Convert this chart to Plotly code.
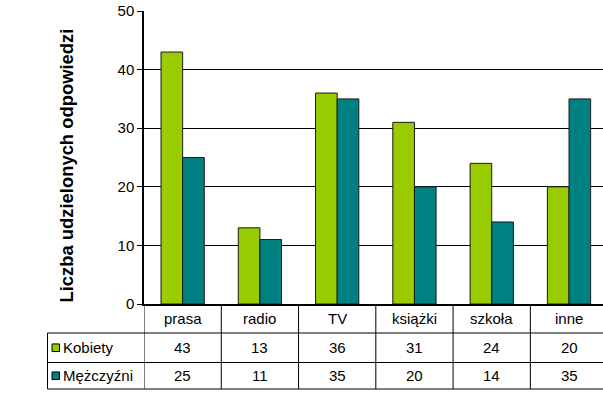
import plotly.graph_objects as go

# Źródła informacji – liczba odpowiedzi kobiet i mężczyzn
categories = ["prasa", "radio", "TV", "książki", "szkoła", "inne"]
kobiety = [43, 13, 36, 31, 24, 20]
mezczyzni = [25, 11, 35, 20, 14, 35]
series_names = ["Kobiety", "Mężczyźni"]
y_ticks = [0, 10, 20, 30, 40, 50]
y_title = "Liczba udzielonych odpowiedzi"

COL_K = "#99CC00"
COL_M = "#008080"
FONT = "Liberation Sans, Arial, sans-serif"

W, H = 603, 400
ML, MR, MT, MB = 144, 0, 11, 96
plot_w = W - ML - MR
plot_h = H - MT - MB


def py(y_px):
    """Pixel row -> paper y."""
    return (H - MB - y_px) / plot_h


def px(x_px):
    """Pixel column -> paper x."""
    return (x_px - ML) / plot_w


fig = go.Figure()
for name, vals, col in [(series_names[0], kobiety, COL_K), (series_names[1], mezczyzni, COL_M)]:
    fig.add_trace(go.Bar(
        x=categories, y=vals, name=name,
        marker=dict(color=col, line=dict(color="#1a1a1a", width=1)),
        showlegend=False,
    ))

shapes = []
annotations = []

# data table: row boundaries
row_top = py(304)
row1 = py(333)
row2 = py(362.5)
row_bot = py(389)
tbl_left = px(47.5)

n = len(categories)
for i in range(n + 1):
    shapes.append(dict(type="line", xref="x", yref="paper",
                       x0=i - 0.5, x1=i - 0.5, y0=row_top, y1=row_bot,
                       line=dict(color="#000000", width=1)))
for yy in (row1, row2, row_bot):
    shapes.append(dict(type="line", xref="paper", yref="paper",
                       x0=tbl_left, x1=1.02, y0=yy, y1=yy,
                       line=dict(color="#000000", width=1)))
shapes.append(dict(type="line", xref="paper", yref="paper",
                   x0=tbl_left, x1=tbl_left, y0=row1, y1=row_bot,
                   line=dict(color="#000000", width=1)))

hdr_y = (row_top + row1) / 2
r1_y = (row1 + row2) / 2
r2_y = (row2 + row_bot) / 2
cell_font = dict(size=15, color="black", family=FONT)
for i, cat in enumerate(categories):
    for text, yc in ((cat, hdr_y), (str(kobiety[i]), r1_y), (str(mezczyzni[i]), r2_y)):
        annotations.append(dict(x=cat, xref="x", y=yc, yref="paper", text=text,
                                xanchor="center", yanchor="middle",
                                showarrow=False, font=cell_font))

# legend keys inside the table
for name, col, yc in [(series_names[0], COL_K, r1_y), (series_names[1], COL_M, r2_y)]:
    shapes.append(dict(type="rect", xref="paper", yref="paper",
                       x0=px(52), x1=px(59.5), y0=yc - 3.8 / plot_h, y1=yc + 3.8 / plot_h,
                       fillcolor=col, line=dict(color="#000000", width=1)))
    annotations.append(dict(x=px(61), xref="paper", y=yc, yref="paper", text=name,
                            xanchor="left", yanchor="middle", showarrow=False,
                            font=cell_font))

# y-axis title
annotations.append(dict(x=px(65.5), xref="paper", y=py(166), yref="paper",
                        text="<b>" + y_title + "</b>",
                        xanchor="center", yanchor="middle",
                        textangle=-90, showarrow=False,
                        font=dict(size=18.4, color="black", family=FONT)))

fig.update_layout(
    width=W, height=H,
    margin=dict(l=ML, r=MR, t=MT, b=MB),
    paper_bgcolor="white", plot_bgcolor="white",
    barmode="group", bargap=0.44, bargroupgap=0,
    font=dict(family=FONT, color="black", size=15),
    shapes=shapes, annotations=annotations,
    xaxis=dict(range=[-0.5, 5.44], showticklabels=False, ticks="",
               showline=True, linecolor="black", linewidth=1.5,
               showgrid=False, zeroline=False, fixedrange=True),
    yaxis=dict(range=[0, 50], tickvals=y_ticks, ticks="outside", ticklen=5,
               tickcolor="black", showline=True, linecolor="black", linewidth=1.5,
               showgrid=True, gridcolor="black", gridwidth=1, zeroline=False,
               tickfont=dict(size=15, family=FONT, color="black")),
)

fig.write_html("out.html")
